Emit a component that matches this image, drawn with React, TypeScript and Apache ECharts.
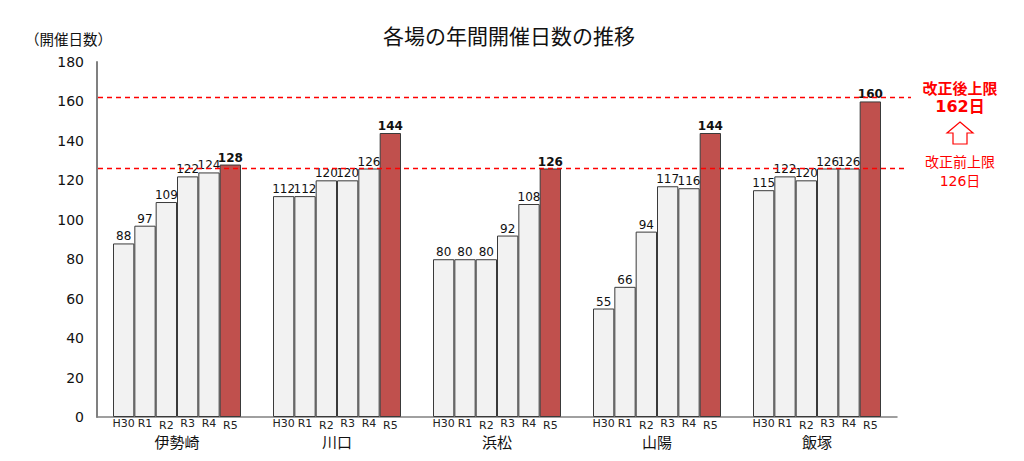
import React, { useEffect, useRef } from "react";
import * as echarts from "echarts";

const venues = ["伊勢崎", "川口", "浜松", "山陽", "飯塚"];
const years = ["H30", "R1", "R2", "R3", "R4", "R5"];
const daysH30 = [88, 112, 80, 55, 115];
const daysR1 = [97, 112, 80, 66, 122];
const daysR2 = [109, 120, 80, 94, 120];
const daysR3 = [122, 120, 92, 117, 126];
const daysR4 = [124, 126, 108, 116, 126];
const daysR5 = [128, 144, 126, 144, 160];
const seriesValues = [daysH30, daysR1, daysR2, daysR3, daysR4, daysR5];
const yMin = 0;
const yMax = 180;
const yInterval = 20;
const limitAfter = 162;
const limitBefore = 126;
const titleText = "各場の年間開催日数の推移";
const yName = "（開催日数）";

const FONT = "'DejaVu Sans', 'Noto Sans CJK JP', sans-serif";
const CJK = "'Noto Sans CJK JP', sans-serif";

export default function App() {
  const ref = useRef<HTMLDivElement>(null);
  useEffect(() => {
    if (!ref.current) return;
    const chart = echarts.init(ref.current, undefined, { renderer: "svg" });
    const series: any[] = [];
    years.forEach((yr, i) => {
      const isLast = i === years.length - 1;
      const vals = seriesValues[i];
      series.push({
        type: "bar",
        name: yr,
        stack: "s" + i,
        data: vals,
        barGap: "0%",
        barCategoryGap: "20%",
        itemStyle: {
          color: isLast ? "#c0504d" : "#f2f2f2",
          borderColor: "#3a3a3a",
          borderWidth: 1,
        },
        label: {
          show: true,
          position: "bottom",
          distance: 1,
          offset: yr === "R2" || yr === "R5" ? [0, 2] : [0, 0],
          formatter: yr,
          fontSize: 11,
          fontFamily: FONT,
          color: "#222",
        },
        z: 2,
      });
      series.push({
        type: "bar",
        name: yr + "-v",
        stack: "s" + i,
        data: vals.map(() => 0),
        itemStyle: { color: "rgba(0,0,0,0)", borderWidth: 0 },
        label: {
          show: true,
          position: "top",
          distance: 1,
          formatter: (p: any) => String(vals[p.dataIndex]),
          fontSize: 12,
          fontWeight: isLast ? "bold" : "normal",
          fontFamily: FONT,
          color: "#111",
        },
        z: 3,
      });
    });

    chart.setOption({
      animation: false,
      title: {
        text: titleText,
        left: 504,
        top: 19,
        textAlign: "center",
        textStyle: { fontSize: 21, fontWeight: "normal", fontFamily: CJK, color: "#111" },
      },
      grid: { left: 97, right: 127, top: 62, bottom: 44 },
      xAxis: {
        type: "category",
        data: venues,
        axisLine: { lineStyle: { color: "#808080", width: 1.5 } },
        axisTick: { show: false },
        axisLabel: { margin: 17, fontSize: 15, fontFamily: CJK, color: "#111" },
      },
      yAxis: {
        type: "value",
        min: yMin,
        max: yMax,
        interval: yInterval,
        axisLine: { show: true, lineStyle: { color: "#808080", width: 2 } },
        axisTick: { show: false },
        splitLine: { show: false },
        axisLabel: { margin: 13, fontSize: 14, fontFamily: FONT, color: "#111" },
      },
      series,
    });

    const yA = chart.convertToPixel({ yAxisIndex: 0 }, limitAfter) as number;
    const yB = chart.convertToPixel({ yAxisIndex: 0 }, limitBefore) as number;
    const ax = 960;
    chart.setOption({
      graphic: [
        {
          type: "text",
          left: 25,
          top: 31,
          style: { text: yName, fontSize: 14.5, fontFamily: CJK, fill: "#111" },
        },
        {
          type: "line",
          z: 10,
          shape: { x1: 98, y1: yA, x2: 911, y2: yA },
          style: { stroke: "#ff0000", lineWidth: 1.3, lineDash: [5, 4] },
        },
        {
          type: "line",
          z: 10,
          shape: { x1: 98, y1: yB, x2: 906, y2: yB },
          style: { stroke: "#ff0000", lineWidth: 1.3, lineDash: [5, 4] },
        },
        {
          type: "text",
          x: ax,
          y: 87,
          style: {
            text: "改正後上限",
            fontSize: 15,
            fontWeight: "bold",
            fontFamily: CJK,
            fill: "#ff0000",
            align: "center",
            verticalAlign: "middle",
          },
        },
        {
          type: "text",
          x: ax,
          y: 106,
          style: {
            text: "162日",
            fontSize: 16,
            fontWeight: "bold",
            fontFamily: FONT,
            fill: "#ff0000",
            align: "center",
            verticalAlign: "middle",
          },
        },
        {
          type: "polygon",
          shape: {
            points: [
              [ax, 122],
              [ax + 13, 133],
              [ax + 7, 133],
              [ax + 7, 144],
              [ax - 7, 144],
              [ax - 7, 133],
              [ax - 13, 133],
            ],
          },
          style: { fill: "#fff", stroke: "#ff0000", lineWidth: 1.2 },
        },
        {
          type: "text",
          x: ax,
          y: 161,
          style: {
            text: "改正前上限",
            fontSize: 14,
            fontFamily: CJK,
            fill: "#ff0000",
            align: "center",
            verticalAlign: "middle",
          },
        },
        {
          type: "text",
          x: ax,
          y: 181,
          style: {
            text: "126日",
            fontSize: 14,
            fontFamily: FONT,
            fill: "#ff0000",
            align: "center",
            verticalAlign: "middle",
          },
        },
      ],
    });
    return () => chart.dispose();
  }, []);
  return <div ref={ref} style={{ width: 1024, height: 461, position: "absolute", left: 0, top: 0 }} />;
}
